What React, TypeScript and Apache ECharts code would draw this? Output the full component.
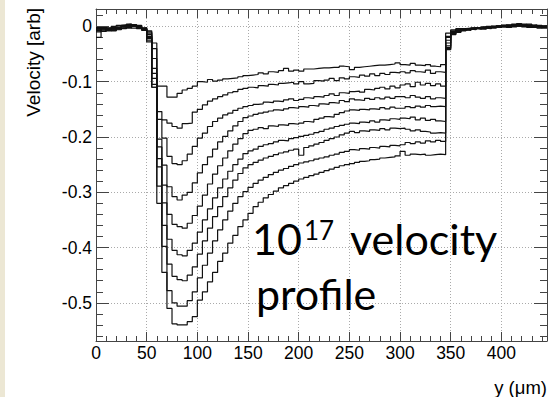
import React, { useEffect, useRef } from "react";
import * as echarts from "echarts";

// Histogram binning (µm)
const BIN_WIDTH = 5;
const X_RANGE = [0, 445];
const Y_RANGE = [-0.569, 0.0315];

// Each curve: 89 bins of 5 µm, from 0 to 445 µm
const curve1 = [
  -0.004, -0.002, -0.003, 0.000, 0.002, 0.003, 0.004, 0.002, -0.001, -0.003,
  -0.008, -0.030, -0.108, -0.108, -0.128, -0.128, -0.121, -0.115, -0.112, -0.108,
  -0.100, -0.101, -0.096, -0.099, -0.097, -0.095, -0.094, -0.093, -0.091, -0.089,
  -0.088, -0.087, -0.084, -0.086, -0.082, -0.083, -0.080, -0.076, -0.081, -0.079,
  -0.081, -0.077, -0.077, -0.076, -0.075, -0.075, -0.074, -0.074, -0.072, -0.073,
  -0.078, -0.074, -0.073, -0.072, -0.071, -0.070, -0.070, -0.069, -0.068, -0.066,
  -0.069, -0.070, -0.067, -0.070, -0.071, -0.069, -0.072, -0.073, -0.069, -0.012,
  -0.006, -0.004, -0.004, -0.003, -0.002, -0.003, -0.001, -0.002, 0.000, 0.001,
  0.000, 0.002, 0.004, 0.003, 0.001, 0.002, 0.001, 0.000, 0.001,
];
const curve2 = [
  -0.008, -0.006, -0.004, -0.005, -0.002, 0.001, 0.000, 0.003, 0.001, -0.004,
  -0.012, -0.040, -0.154, -0.169, -0.175, -0.181, -0.184, -0.176, -0.175, -0.155,
  -0.150, -0.142, -0.135, -0.131, -0.127, -0.124, -0.120, -0.118, -0.114, -0.112,
  -0.110, -0.111, -0.107, -0.108, -0.105, -0.106, -0.103, -0.102, -0.101, -0.104,
  -0.100, -0.104, -0.103, -0.098, -0.099, -0.097, -0.094, -0.098, -0.093, -0.095,
  -0.091, -0.092, -0.088, -0.090, -0.086, -0.089, -0.085, -0.087, -0.083, -0.084,
  -0.082, -0.084, -0.080, -0.082, -0.083, -0.079, -0.085, -0.082, -0.083, -0.018,
  -0.010, -0.007, -0.005, -0.006, -0.004, -0.002, -0.003, -0.001, -0.002, 0.000,
  0.002, 0.001, 0.003, 0.002, 0.004, 0.001, 0.000, 0.002, -0.001,
];
const curve3 = [
  -0.020, -0.004, -0.006, -0.003, -0.004, 0.002, 0.004, 0.001, -0.002, -0.005,
  -0.010, -0.058, -0.168, -0.202, -0.235, -0.248, -0.250, -0.243, -0.231, -0.217,
  -0.202, -0.193, -0.181, -0.172, -0.166, -0.160, -0.157, -0.152, -0.148, -0.145,
  -0.143, -0.141, -0.140, -0.137, -0.138, -0.135, -0.136, -0.133, -0.131, -0.134,
  -0.132, -0.129, -0.130, -0.127, -0.128, -0.125, -0.122, -0.125, -0.120, -0.121,
  -0.118, -0.117, -0.119, -0.114, -0.115, -0.112, -0.110, -0.113, -0.108, -0.111,
  -0.106, -0.104, -0.109, -0.101, -0.106, -0.103, -0.107, -0.104, -0.108, -0.020,
  -0.008, -0.006, -0.007, -0.004, -0.005, -0.003, -0.004, -0.002, -0.001, -0.002,
  0.001, 0.000, 0.002, 0.005, 0.002, 0.000, -0.001, 0.001, 0.000,
];
const curve4 = [
  -0.006, -0.008, -0.003, -0.006, -0.001, -0.003, 0.003, 0.002, 0.000, -0.006,
  -0.015, -0.076, -0.204, -0.251, -0.290, -0.308, -0.314, -0.305, -0.300, -0.283,
  -0.265, -0.250, -0.236, -0.222, -0.209, -0.199, -0.189, -0.180, -0.172, -0.165,
  -0.162, -0.159, -0.157, -0.155, -0.153, -0.151, -0.152, -0.149, -0.147, -0.148,
  -0.145, -0.146, -0.143, -0.144, -0.140, -0.141, -0.138, -0.139, -0.134, -0.136,
  -0.131, -0.133, -0.134, -0.130, -0.132, -0.129, -0.131, -0.128, -0.130, -0.127,
  -0.127, -0.129, -0.125, -0.128, -0.130, -0.127, -0.131, -0.129, -0.130, -0.025,
  -0.013, -0.008, -0.006, -0.005, -0.003, -0.004, -0.002, 0.000, -0.001, 0.001,
  -0.001, 0.002, 0.001, 0.003, 0.000, -0.002, 0.001, -0.001, -0.002,
];
const curve5 = [
  -0.002, -0.003, -0.007, -0.002, -0.004, 0.001, -0.002, 0.003, -0.003, -0.002,
  -0.018, -0.085, -0.218, -0.287, -0.340, -0.358, -0.362, -0.365, -0.356, -0.342,
  -0.325, -0.305, -0.285, -0.267, -0.252, -0.238, -0.225, -0.213, -0.203, -0.194,
  -0.188, -0.186, -0.183, -0.185, -0.180, -0.181, -0.178, -0.179, -0.176, -0.177,
  -0.175, -0.172, -0.173, -0.168, -0.166, -0.163, -0.164, -0.159, -0.156, -0.153,
  -0.151, -0.152, -0.150, -0.151, -0.149, -0.150, -0.147, -0.149, -0.146, -0.148,
  -0.148, -0.145, -0.147, -0.144, -0.146, -0.143, -0.145, -0.144, -0.145, -0.030,
  -0.011, -0.009, -0.006, -0.004, -0.005, -0.002, -0.001, -0.003, 0.000, -0.002,
  0.001, 0.003, 0.000, 0.002, 0.003, 0.001, -0.002, 0.000, 0.001,
];
const curve6 = [
  -0.010, -0.005, -0.004, -0.008, -0.003, -0.002, 0.002, 0.000, 0.002, -0.006,
  -0.020, -0.094, -0.239, -0.319, -0.385, -0.405, -0.413, -0.415, -0.405, -0.392,
  -0.372, -0.350, -0.330, -0.310, -0.292, -0.276, -0.262, -0.250, -0.240, -0.230,
  -0.225, -0.222, -0.217, -0.214, -0.212, -0.209, -0.206, -0.207, -0.203, -0.201,
  -0.199, -0.197, -0.195, -0.192, -0.190, -0.186, -0.184, -0.181, -0.179, -0.177,
  -0.175, -0.176, -0.173, -0.174, -0.171, -0.173, -0.169, -0.170, -0.167, -0.168,
  -0.166, -0.167, -0.164, -0.169, -0.166, -0.170, -0.168, -0.171, -0.172, -0.035,
  -0.015, -0.007, -0.005, -0.006, -0.003, -0.004, -0.002, -0.001, -0.003, 0.000,
  0.002, -0.001, 0.001, 0.000, 0.002, 0.004, 0.000, -0.003, -0.001,
];
const curve7 = [
  -0.005, -0.009, -0.006, -0.004, -0.006, -0.001, 0.001, -0.003, -0.001, -0.004,
  -0.022, -0.105, -0.254, -0.360, -0.430, -0.452, -0.458, -0.460, -0.450, -0.435,
  -0.412, -0.388, -0.365, -0.344, -0.326, -0.308, -0.292, -0.278, -0.266, -0.256,
  -0.250, -0.246, -0.242, -0.238, -0.235, -0.232, -0.229, -0.227, -0.224, -0.222,
  -0.233, -0.219, -0.216, -0.213, -0.210, -0.206, -0.203, -0.200, -0.196, -0.193,
  -0.190, -0.192, -0.189, -0.190, -0.187, -0.188, -0.185, -0.187, -0.184, -0.185,
  -0.184, -0.186, -0.189, -0.187, -0.190, -0.191, -0.193, -0.192, -0.193, -0.038,
  -0.009, -0.010, -0.006, -0.007, -0.004, -0.003, -0.005, -0.002, -0.001, 0.001,
  -0.001, 0.000, 0.003, 0.001, -0.001, 0.002, 0.003, 0.001, -0.002,
];
const curve8 = [
  -0.003, -0.004, -0.008, -0.005, -0.002, -0.004, 0.000, 0.002, -0.004, -0.007,
  -0.025, -0.110, -0.289, -0.398, -0.478, -0.500, -0.506, -0.506, -0.496, -0.480,
  -0.455, -0.432, -0.410, -0.388, -0.368, -0.350, -0.334, -0.320, -0.308, -0.299,
  -0.291, -0.284, -0.278, -0.273, -0.268, -0.264, -0.260, -0.257, -0.253, -0.250,
  -0.247, -0.245, -0.243, -0.240, -0.238, -0.236, -0.233, -0.231, -0.228, -0.226,
  -0.223, -0.224, -0.221, -0.222, -0.219, -0.220, -0.217, -0.218, -0.215, -0.216,
  -0.214, -0.210, -0.212, -0.209, -0.211, -0.207, -0.209, -0.206, -0.208, -0.040,
  -0.012, -0.006, -0.008, -0.005, -0.006, -0.003, -0.003, -0.004, -0.001, -0.002,
  0.000, 0.001, -0.001, 0.002, 0.001, 0.003, -0.001, -0.002, 0.000,
];
const curve9 = [
  -0.007, -0.003, -0.005, -0.007, -0.005, 0.000, -0.003, 0.001, 0.001, -0.005,
  -0.028, -0.110, -0.320, -0.445, -0.510, -0.538, -0.540, -0.540, -0.534, -0.525,
  -0.495, -0.480, -0.462, -0.445, -0.425, -0.410, -0.392, -0.378, -0.362, -0.350,
  -0.338, -0.326, -0.318, -0.310, -0.304, -0.298, -0.292, -0.288, -0.284, -0.280,
  -0.276, -0.273, -0.270, -0.267, -0.264, -0.261, -0.258, -0.255, -0.252, -0.250,
  -0.248, -0.246, -0.244, -0.243, -0.241, -0.240, -0.238, -0.237, -0.236, -0.234,
  -0.226, -0.233, -0.231, -0.232, -0.231, -0.233, -0.232, -0.231, -0.232, -0.042,
  -0.014, -0.011, -0.007, -0.006, -0.004, -0.005, -0.002, -0.003, 0.000, -0.001,
  0.002, -0.002, 0.000, 0.001, 0.003, 0.000, 0.002, -0.001, -0.003,
];

const curves = [curve1, curve2, curve3, curve4, curve5, curve6, curve7, curve8, curve9];

const Y_TITLE = "Velocity [arb]";
const X_TITLE = "y (\u03bcm)";

function toSteps(vals: number[]): number[][] {
  const pts = vals.map((v, i) => [i * BIN_WIDTH, v]);
  pts.push([vals.length * BIN_WIDTH, vals[vals.length - 1]]);
  return pts;
}

const AXIS_COLOR = "#444";
const FONT = "Liberation Sans";

const yFmt = (v: number) => {
  const r = Math.round(v * 10) / 10;
  if (Math.abs(v - r) > 1e-6) return "";
  return Math.abs(r) < 1e-9 ? "0" : r.toFixed(1);
};
const xFmt = (v: number) => (Math.abs(v % 50) < 1e-6 ? String(Math.round(v)) : "");

function makeX(pos: "bottom" | "top", labels: boolean, grid: boolean) {
  return {
    type: "value",
    position: pos,
    min: X_RANGE[0],
    max: X_RANGE[1],
    interval: 50,
    axisLine: { show: true, onZero: false, lineStyle: { color: AXIS_COLOR, width: 1 } },
    axisTick: { show: true, inside: true, length: 9, lineStyle: { color: AXIS_COLOR } },
    minorTick: { show: true, splitNumber: 5, length: 5, lineStyle: { color: AXIS_COLOR } },
    splitLine: { show: grid, lineStyle: { color: "#aaa", type: [1, 2], width: 1 } },
    axisLabel: {
      show: labels,
      formatter: xFmt,
      fontSize: 17.5,
      fontFamily: FONT,
      color: "#000",
      margin: 3,
      showMinLabel: true,
      showMaxLabel: false,
    },
  };
}
function makeY(pos: "left" | "right", labels: boolean, grid: boolean) {
  return {
    type: "value",
    position: pos,
    min: Y_RANGE[0],
    max: Y_RANGE[1],
    splitNumber: 6,
    axisLine: { show: true, onZero: false, lineStyle: { color: AXIS_COLOR, width: 1 } },
    axisTick: { show: true, inside: true, length: 13, lineStyle: { color: AXIS_COLOR } },
    minorTick: { show: true, splitNumber: 5, length: 7, lineStyle: { color: AXIS_COLOR } },
    splitLine: { show: grid, lineStyle: { color: "#aaa", type: [1, 2], width: 1 } },
    axisLabel: {
      show: labels,
      formatter: yFmt,
      fontSize: 17.5,
      fontFamily: FONT,
      color: "#000",
      margin: 4,
      showMinLabel: false,
      showMaxLabel: false,
    },
  };
}

export default function App() {
  const ref = useRef<HTMLDivElement>(null);
  useEffect(() => {
    document.body.style.margin = "0";
    const chart = echarts.init(ref.current!, null, { renderer: "svg" });
    const option: any = {
      animation: false,
      backgroundColor: "#ffffff",
      grid: { left: 96, right: 5, top: 9, bottom: 56, containLabel: false, outerBoundsMode: "none" },
      xAxis: [makeX("bottom", true, true), makeX("top", false, false)],
      yAxis: [makeY("left", true, true), makeY("right", false, false)],
      series: curves.map((vals) => ({
        type: "line",
        step: "end",
        data: toSteps(vals),
        symbol: "none",
        silent: true,
        clip: true,
        lineStyle: { color: "#111", width: 1.2 },
        z: 3,
      })),
      graphic: [
        { type: "rect", shape: { x: 0, y: 0, width: 5, height: 397 }, style: { fill: "#ece7d4" }, z: -1 },
        {
          type: "text", x: 33, y: 8, rotation: Math.PI / 2,
          style: { text: Y_TITLE, fontSize: 19, fontFamily: FONT, fill: "#000", align: "right", verticalAlign: "middle" },
        },
        {
          type: "text", x: 547, y: 387,
          style: { text: X_TITLE, fontSize: 18.5, fontFamily: FONT, fill: "#000", align: "right", verticalAlign: "middle" },
        },
        {
          type: "text", x: 252, y: 238.4, z: 10,
          style: { text: "10", fontSize: 43, fontFamily: "Lato", fill: "#000", align: "left", verticalAlign: "middle" },
        },
        {
          type: "text", x: 304, y: 230, z: 10,
          style: { text: "17", fontSize: 26, fontFamily: "Lato", fill: "#000", align: "left", verticalAlign: "middle" },
        },
        {
          type: "text", x: 350, y: 238.4, z: 10,
          style: { text: "velocity", fontSize: 43, fontFamily: "Lato", fill: "#000", align: "left", verticalAlign: "middle" },
        },
        {
          type: "text", x: 256, y: 293.4, z: 10,
          style: { text: "profile", fontSize: 43, fontFamily: "Lato", fill: "#000", align: "left", verticalAlign: "middle" },
        },
      ],
    };
    chart.setOption(option);
    return () => chart.dispose();
  }, []);
  return <div ref={ref} style={{ width: 552, height: 397 }} />;
}
